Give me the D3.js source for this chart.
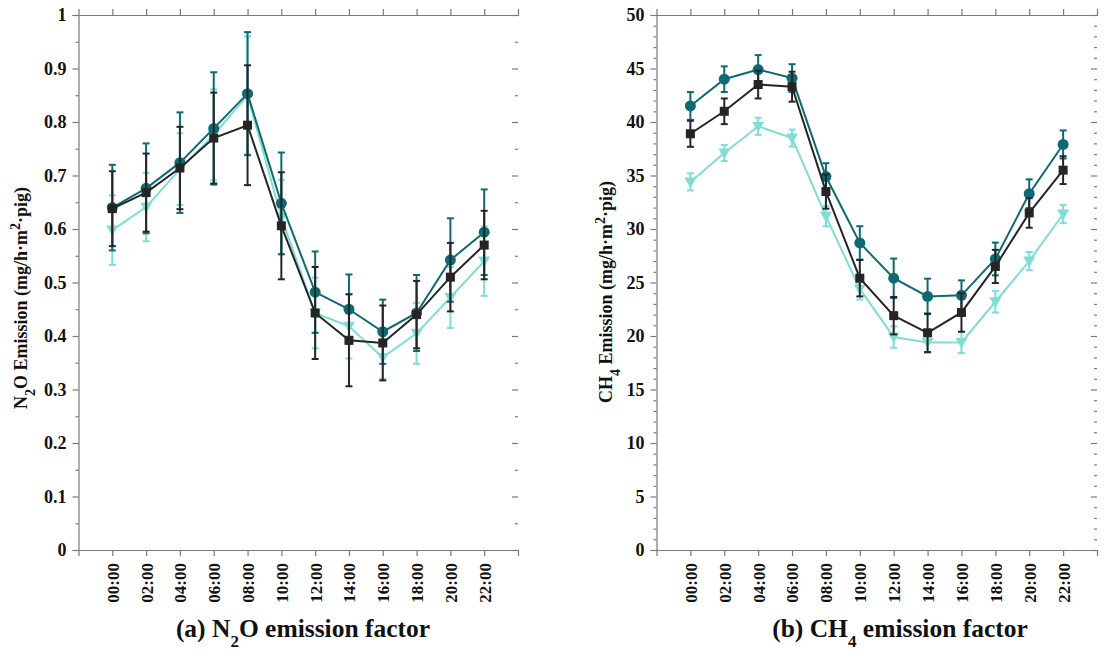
<!DOCTYPE html>
<html>
<head>
<meta charset="utf-8">
<script src="https://cdn.jsdelivr.net/npm/d3@7"></script>
<style>
  html, body { margin: 0; padding: 0; background: #fff; }
  svg { display: block; }
  text { font-family: "Liberation Serif", "Times New Roman", serif; font-weight: bold; fill: #111; }
</style>
</head>
<body>
<svg id="chart" width="1110" height="661"></svg>
<script>
// ---------- data ----------
const times = ["00:00","02:00","04:00","06:00","08:00","10:00","12:00","14:00","16:00","18:00","20:00","22:00"];

const n2oTeal      = [0.640,0.676,0.724,0.788,0.853,0.648,0.482,0.450,0.408,0.443,0.542,0.594];
const n2oTealErr   = [0.080,0.084,0.094,0.105,0.115,0.095,0.076,0.065,0.060,0.071,0.078,0.080];
const n2oBlack     = [0.638,0.668,0.714,0.770,0.794,0.606,0.443,0.392,0.387,0.440,0.510,0.570];
const n2oBlackErr  = [0.070,0.073,0.077,0.085,0.112,0.100,0.086,0.086,0.070,0.063,0.064,0.064];
const n2oLight     = [0.598,0.641,0.712,0.776,0.850,0.622,0.443,0.418,0.360,0.405,0.472,0.540];
const n2oLightErr  = [0.065,0.064,0.067,0.085,0.110,0.070,0.066,0.060,0.040,0.057,0.057,0.065];

const ch4Teal      = [41.5,44.0,44.9,44.1,34.9,28.7,25.4,23.7,23.8,27.2,33.3,37.9];
const ch4TealErr   = [1.30,1.20,1.35,1.30,1.25,1.56,1.84,1.66,1.40,1.53,1.34,1.31];
const ch4Black     = [38.9,41.0,43.5,43.3,33.5,25.4,21.9,20.3,22.2,26.5,31.5,35.5];
const ch4BlackErr  = [1.22,1.20,1.30,1.40,1.60,1.70,1.75,1.80,1.80,1.55,1.38,1.30];
const ch4Light     = [34.4,37.1,39.6,38.5,31.2,24.4,19.9,19.4,19.4,23.2,27.0,31.4];
const ch4LightErr  = [0.80,0.75,0.80,0.80,0.95,1.00,1.00,1.00,1.00,1.00,0.85,0.85];

const n2oTicks = [0,0.1,0.2,0.3,0.4,0.5,0.6,0.7,0.8,0.9,1];
const ch4Ticks = [0,5,10,15,20,25,30,35,40,45,50];

// ---------- styles ----------
const colTeal = "#0e6a72", colBlack = "#252525", colLight = "#80ddd4", axisCol = "#7a7a7a";

const svg = d3.select("#chart");

function drawPanel(cfg) {
  const g = svg.append("g");
  const x = d3.scaleLinear().domain([-1, 12]).range([cfg.x0, cfg.x1]);
  const y = d3.scaleLinear().domain([0, cfg.ymax]).range([550, 15]);
  const idx = d3.range(times.length);

  const yLeft = g.append("g").attr("transform", `translate(${cfg.x0},0)`)
    .call(d3.axisLeft(y).tickValues(cfg.ticks).tickSize(6).tickPadding(6).tickFormat(cfg.fmt));
  const yLeftMinor = g.append("g").attr("transform", `translate(${cfg.x0},0)`)
    .call(d3.axisLeft(y).tickValues(cfg.minor).tickSize(3).tickFormat(""));
  const yRight = g.append("g").attr("transform", `translate(${cfg.x1},0)`)
    .call(d3.axisLeft(y).tickValues(cfg.ticks).tickSize(6).tickFormat(""));
  const yRightMinor = g.append("g").attr("transform", `translate(${cfg.x1},0)`)
    .call(d3.axisLeft(y).tickValues(cfg.minor).tickSize(3).tickFormat(""));
  const xBottom = g.append("g").attr("transform", `translate(0,550)`)
    .call(d3.axisBottom(x).tickValues(idx).tickSize(6).tickFormat(i => times[i]));
  const xTop = g.append("g").attr("transform", `translate(0,15)`)
    .call(d3.axisTop(x).tickValues(idx).tickSize(6).tickFormat(""));

  [yLeft, yLeftMinor, yRight, yRightMinor, xBottom, xTop].forEach(a => {
    a.attr("font-family", null).attr("font-size", null);
    a.select(".domain").attr("stroke", axisCol).attr("stroke-width", 1.2);
    a.selectAll(".tick line").attr("stroke", axisCol).attr("stroke-width", 1.2);
  });
  [yLeftMinor, yRight, yRightMinor].forEach(a => a.select(".domain").remove());
  yLeft.selectAll(".tick text").style("font-size", "18px").attr("fill", "#111");
  xBottom.selectAll(".tick text")
    .style("font-size", "17px").attr("fill", "#111")
    .attr("transform", "rotate(-90)").attr("text-anchor", "end")
    .attr("x", -13).attr("y", 0).attr("dy", "0.35em");

  const series = [
    { v: cfg.light, e: cfg.lightErr, c: colLight, sym: "tri" },
    { v: cfg.teal,  e: cfg.tealErr,  c: colTeal,  sym: "circle" },
    { v: cfg.black, e: cfg.blackErr, c: colBlack, sym: "square" }
  ];
  series.forEach(s => {
    const sg = g.append("g");
    idx.forEach(i => {
      const cx = x(i), yt = y(s.v[i] + s.e[i]), yb = y(s.v[i] - s.e[i]);
      sg.append("line").attr("x1", cx).attr("x2", cx).attr("y1", yt).attr("y2", yb)
        .attr("stroke", s.c).attr("stroke-width", 2);
      [yt, yb].forEach(yy => sg.append("line").attr("x1", cx - 3.5).attr("x2", cx + 3.5)
        .attr("y1", yy).attr("y2", yy).attr("stroke", s.c).attr("stroke-width", 2));
    });
    sg.append("path").datum(idx)
      .attr("d", d3.line().x(i => x(i)).y(i => y(s.v[i])))
      .attr("fill", "none").attr("stroke", s.c).attr("stroke-width", 2);
    idx.forEach(i => {
      const cx = x(i), cy = y(s.v[i]);
      if (s.sym === "circle") {
        sg.append("circle").attr("cx", cx).attr("cy", cy).attr("r", 5.5).attr("fill", s.c);
      } else if (s.sym === "square") {
        sg.append("rect").attr("x", cx - 4.5).attr("y", cy - 4.5).attr("width", 9).attr("height", 9).attr("fill", s.c);
      } else {
        sg.append("path").attr("d", `M${cx-6},${cy-4.5}L${cx+6},${cy-4.5}L${cx},${cy+6}Z`).attr("fill", s.c);
      }
    });
  });

  const yl = svg.append("text")
    .attr("transform", `translate(${cfg.ylabX},${cfg.ylabY}) rotate(-90)`)
    .attr("text-anchor", "middle").style("font-size", "18px");
  cfg.ylabParts.forEach(p => {
    const t = yl.append("tspan").text(p.t);
    if (p.sub) t.attr("baseline-shift", "sub").style("font-size", "14px");
    if (p.sup) t.attr("baseline-shift", "super").style("font-size", "14px");
  });

  const tt = svg.append("text").attr("x", cfg.titleX).attr("y", 637)
    .attr("text-anchor", "middle").style("font-size", "25.5px");
  cfg.titleParts.forEach(p => {
    const t = tt.append("tspan").text(p.t);
    if (p.sub) t.attr("baseline-shift", "sub").style("font-size", "17px");
  });
}

drawPanel({
  x0: 78.5, x1: 518, ymax: 1, ticks: n2oTicks,
  minor: d3.range(0.05, 1, 0.1),
  fmt: d => d === 0 ? "0" : (d === 1 ? "1" : d3.format(".1f")(d)),
  teal: n2oTeal, tealErr: n2oTealErr, black: n2oBlack, blackErr: n2oBlackErr, light: n2oLight, lightErr: n2oLightErr,
  ylabX: 27, ylabY: 298,
  ylabParts: [{t:"N"},{t:"2",sub:true},{t:"O Emission (mg/h·m"},{t:"2",sup:true},{t:"·pig)"}],
  titleX: 303,
  titleParts: [{t:"(a) N"},{t:"2",sub:true},{t:"O emission factor"}]
});

drawPanel({
  x0: 656.5, x1: 1097, ymax: 50, ticks: ch4Ticks,
  minor: d3.range(1, 50, 1).filter(v => v % 5 !== 0),
  fmt: d3.format("d"),
  teal: ch4Teal, tealErr: ch4TealErr, black: ch4Black, blackErr: ch4BlackErr, light: ch4Light, lightErr: ch4LightErr,
  ylabX: 612, ylabY: 292,
  ylabParts: [{t:"CH"},{t:"4",sub:true},{t:" Emission (mg/h·m"},{t:"2",sup:true},{t:"·pig)"}],
  titleX: 900,
  titleParts: [{t:"(b) CH"},{t:"4",sub:true},{t:" emission factor"}]
});
</script>
</body>
</html>
